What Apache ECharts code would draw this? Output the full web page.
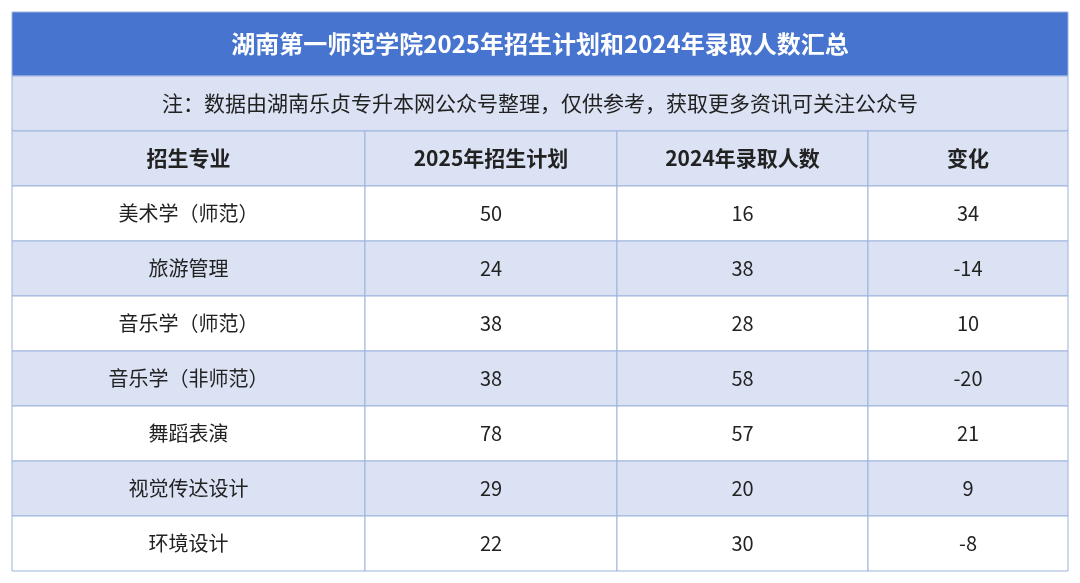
<!DOCTYPE html>
<html><head><meta charset="utf-8">
<script src="https://cdn.jsdelivr.net/npm/echarts@6/dist/echarts.min.js"></script>
<style>html,body{margin:0;background:#fff}#c{width:1080px;height:583px}</style>
</head><body><div id="c"></div>
<script>
var title = '湖南第一师范学院2025年招生计划和2024年录取人数汇总';
var note = '注：数据由湖南乐贞专升本网公众号整理，仅供参考，获取更多资讯可关注公众号';
var headers = ['招生专业', '2025年招生计划', '2024年录取人数', '变化'];
var majors = ['美术学（师范）', '旅游管理', '音乐学（师范）', '音乐学（非师范）', '舞蹈表演', '视觉传达设计', '环境设计'];
var plan2025 = [50, 24, 38, 38, 78, 29, 22];
var admit2024 = [16, 38, 28, 58, 57, 20, 30];
var change = [34, -14, 10, -20, 21, 9, -8];

// layout (pixels within grid)
var colEdges = [0, 353, 605, 856, 1056];
var titleH = 64, noteH = 55, rowH = 55;

var cells = [];
cells.push([0, 1056, 0, titleH, title, 'title']);
cells.push([0, 1056, titleH, titleH + noteH, note, 'note']);
var y0 = titleH + noteH;
headers.forEach(function (h, i) { cells.push([colEdges[i], colEdges[i + 1], y0, y0 + rowH, h, 'head']); });
majors.forEach(function (m, r) {
  var top = y0 + rowH * (r + 1);
  var vals = [m, plan2025[r], admit2024[r], change[r]];
  vals.forEach(function (v, i) {
    cells.push([colEdges[i], colEdges[i + 1], top, top + rowH, String(v), r % 2 ? 'alt' : 'row']);
  });
});
var totalH = y0 + rowH * (majors.length + 1);

var styles = {
  title: {fill: '#4674CF', color: '#fff', size: 24, weight: 'bold'},
  note: {fill: '#DAE2F3', color: '#222', size: 21, weight: 'normal'},
  head: {fill: '#DAE2F3', color: '#222', size: 21, weight: 'bold'},
  row: {fill: '#FFFFFF', color: '#222', size: 20, weight: 'normal'},
  alt: {fill: '#DAE2F3', color: '#222', size: 20, weight: 'normal'}
};

var chart = echarts.init(document.getElementById('c'));
chart.setOption({
  animation: false,
  grid: {left: 12, right: 12, top: 12, bottom: 12},
  xAxis: {type: 'value', min: 0, max: 1056, show: false},
  yAxis: {type: 'value', min: 0, max: totalH, inverse: true, show: false},
  series: [{
    type: 'custom',
    data: cells,
    renderItem: function (params, api) {
      var d = cells[params.dataIndex];
      var p1 = api.coord([d[0], d[2]]), p2 = api.coord([d[1], d[3]]);
      var s = styles[d[5]];
      return {
        type: 'group',
        children: [{
          type: 'rect',
          shape: {x: p1[0], y: p1[1], width: p2[0] - p1[0], height: p2[1] - p1[1]},
          style: {fill: s.fill, stroke: '#9DB3DE', lineWidth: 1}
        }, {
          type: 'text',
          style: {
            x: (p1[0] + p2[0]) / 2, y: (p1[1] + p2[1]) / 2,
            text: d[4], fill: s.color, align: 'center', verticalAlign: 'middle',
            font: s.weight + ' ' + s.size + 'px "Noto Sans CJK SC", sans-serif'
          }
        }]
      };
    }
  }]
});
</script></body></html>
